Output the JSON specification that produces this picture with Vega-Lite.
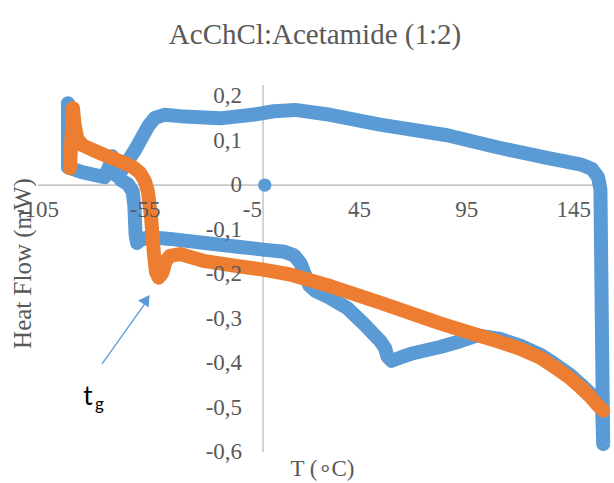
{
  "$schema": "https://vega.github.io/schema/vega-lite/v6.json",
  "width": 568,
  "height": 367,
  "autosize": {"type": "none"},
  "padding": {"left": 38, "top": 85, "right": 8, "bottom": 31},
  "background": "white",
  "config": {"view": {"stroke": null}},
  "title": {"text": "AcChCl:Acetamide (1:2)", "font": "Liberation Serif", "fontSize": 29, "fontWeight": "normal", "color": "#595959", "offset": 34, "anchor": "middle", "dx": -7},
  "datasets": {
    "axes": [
      {"x": -105, "x2": 160, "y": 0, "y2": 0},
      {"x": 0, "x2": 0, "y": -0.6, "y2": 0.225}
    ],
    "blue": [
      {"i": 1, "x": -91.0, "y": 0.184},
      {"i": 2, "x": -91.0, "y": 0.040},
      {"i": 3, "x": -84.5, "y": 0.029},
      {"i": 4, "x": -74.0, "y": 0.018},
      {"i": 5, "x": -71.5, "y": 0.045},
      {"i": 6, "x": -70.5, "y": 0.065},
      {"i": 7, "x": -69.3, "y": 0.045},
      {"i": 8, "x": -68.6, "y": 0.022},
      {"i": 9, "x": -65.8, "y": 0.034},
      {"i": 10, "x": -59.7, "y": 0.079},
      {"i": 11, "x": -53.5, "y": 0.133},
      {"i": 12, "x": -50.5, "y": 0.151},
      {"i": 13, "x": -46.0, "y": 0.158},
      {"i": 14, "x": -38.7, "y": 0.155},
      {"i": 15, "x": -20.1, "y": 0.150},
      {"i": 16, "x": -5, "y": 0.158},
      {"i": 17, "x": 5, "y": 0.166},
      {"i": 18, "x": 15, "y": 0.169},
      {"i": 19, "x": 31.3, "y": 0.158},
      {"i": 20, "x": 54.6, "y": 0.136},
      {"i": 21, "x": 85.9, "y": 0.112},
      {"i": 22, "x": 109.2, "y": 0.085},
      {"i": 23, "x": 132.5, "y": 0.061},
      {"i": 24, "x": 148.5, "y": 0.046},
      {"i": 25, "x": 153.5, "y": 0.036},
      {"i": 26, "x": 156.3, "y": 0.018},
      {"i": 27, "x": 157.4, "y": -0.010},
      {"i": 28, "x": 157.7, "y": -0.146},
      {"i": 29, "x": 158.2, "y": -0.371},
      {"i": 30, "x": 158.7, "y": -0.582},
      {"i": 31, "x": 158.2, "y": -0.502},
      {"i": 32, "x": 156.0, "y": -0.487},
      {"i": 33, "x": 152.6, "y": -0.468},
      {"i": 34, "x": 148.0, "y": -0.447},
      {"i": 35, "x": 143.3, "y": -0.427},
      {"i": 36, "x": 136.0, "y": -0.402},
      {"i": 37, "x": 129.3, "y": -0.381},
      {"i": 38, "x": 120.0, "y": -0.361},
      {"i": 39, "x": 110.6, "y": -0.346},
      {"i": 40, "x": 100.0, "y": -0.338},
      {"i": 41, "x": 92.0, "y": -0.351},
      {"i": 42, "x": 82.6, "y": -0.364},
      {"i": 43, "x": 70.0, "y": -0.378},
      {"i": 44, "x": 63.9, "y": -0.388},
      {"i": 45, "x": 60.0, "y": -0.395},
      {"i": 46, "x": 58.0, "y": -0.385},
      {"i": 47, "x": 56.9, "y": -0.366},
      {"i": 48, "x": 54.6, "y": -0.350},
      {"i": 49, "x": 47.0, "y": -0.312},
      {"i": 50, "x": 39.2, "y": -0.276},
      {"i": 51, "x": 31.3, "y": -0.254},
      {"i": 52, "x": 24.5, "y": -0.238},
      {"i": 53, "x": 21.5, "y": -0.225},
      {"i": 54, "x": 19.6, "y": -0.202},
      {"i": 55, "x": 17.5, "y": -0.176},
      {"i": 56, "x": 14.5, "y": -0.158},
      {"i": 57, "x": 10.0, "y": -0.150},
      {"i": 58, "x": 0, "y": -0.145},
      {"i": 59, "x": -10.7, "y": -0.139},
      {"i": 60, "x": -27.1, "y": -0.130},
      {"i": 61, "x": -43.4, "y": -0.121},
      {"i": 62, "x": -52.7, "y": -0.117},
      {"i": 63, "x": -56.8, "y": -0.122},
      {"i": 64, "x": -58.8, "y": -0.130},
      {"i": 65, "x": -59.5, "y": -0.110},
      {"i": 66, "x": -60.0, "y": -0.050},
      {"i": 67, "x": -60.8, "y": -0.015},
      {"i": 68, "x": -63.0, "y": 0.002},
      {"i": 69, "x": -66.5, "y": 0.012}
    ],
    "dot": [{"x": 0.8, "y": 0}],
    "orange": [
      {"i": 1, "x": -90.1, "y": 0.038},
      {"i": 2, "x": -89.1, "y": 0.135},
      {"i": 3, "x": -88.7, "y": 0.173},
      {"i": 4, "x": -87.9, "y": 0.135},
      {"i": 5, "x": -86.6, "y": 0.103},
      {"i": 6, "x": -84.0, "y": 0.089},
      {"i": 7, "x": -79.0, "y": 0.078},
      {"i": 8, "x": -73.7, "y": 0.067},
      {"i": 9, "x": -65.8, "y": 0.052},
      {"i": 10, "x": -60.5, "y": 0.040},
      {"i": 11, "x": -57.5, "y": 0.028},
      {"i": 12, "x": -55.2, "y": 0.010},
      {"i": 13, "x": -53.7, "y": -0.015},
      {"i": 14, "x": -52.2, "y": -0.075},
      {"i": 15, "x": -51.0, "y": -0.150},
      {"i": 16, "x": -50.0, "y": -0.195},
      {"i": 17, "x": -48.7, "y": -0.208},
      {"i": 18, "x": -47.0, "y": -0.198},
      {"i": 19, "x": -45.5, "y": -0.172},
      {"i": 20, "x": -43.5, "y": -0.159},
      {"i": 21, "x": -38.7, "y": -0.155},
      {"i": 22, "x": -27.1, "y": -0.171},
      {"i": 23, "x": -10.7, "y": -0.183},
      {"i": 24, "x": 0, "y": -0.190},
      {"i": 25, "x": 12.6, "y": -0.201},
      {"i": 26, "x": 31.3, "y": -0.227},
      {"i": 27, "x": 54.6, "y": -0.264},
      {"i": 28, "x": 82.6, "y": -0.311},
      {"i": 29, "x": 100.0, "y": -0.337},
      {"i": 30, "x": 110.6, "y": -0.353},
      {"i": 31, "x": 120.0, "y": -0.368},
      {"i": 32, "x": 129.3, "y": -0.388},
      {"i": 33, "x": 136.0, "y": -0.409},
      {"i": 34, "x": 143.3, "y": -0.434},
      {"i": 35, "x": 148.0, "y": -0.454},
      {"i": 36, "x": 152.6, "y": -0.475},
      {"i": 37, "x": 156.0, "y": -0.494},
      {"i": 38, "x": 158.7, "y": -0.507}
    ],
    "xticks": [
      {"x": -105, "y": 0, "label": "-105"},
      {"x": -55, "y": 0, "label": "-55"},
      {"x": -5, "y": 0, "label": "-5"},
      {"x": 45, "y": 0, "label": "45"},
      {"x": 95, "y": 0, "label": "95"},
      {"x": 145, "y": 0, "label": "145"}
    ],
    "yticks": [
      {"x": 0, "y": 0.2, "label": "0,2"},
      {"x": 0, "y": 0.1, "label": "0,1"},
      {"x": 0, "y": 0, "label": "0"},
      {"x": 0, "y": -0.1, "label": "-0,1"},
      {"x": 0, "y": -0.2, "label": "-0,2"},
      {"x": 0, "y": -0.3, "label": "-0,3"},
      {"x": 0, "y": -0.4, "label": "-0,4"},
      {"x": 0, "y": -0.5, "label": "-0,5"},
      {"x": 0, "y": -0.6, "label": "-0,6"}
    ],
    "arrow": [{"x": -75.1, "y": -0.402, "x2": -54.2, "y2": -0.26}],
    "arrowhead": [{"x": -54.4, "y": -0.257}],
    "t": [{"x": -81.7, "y": -0.494, "label": "t"}],
    "g": [{"x": -76.3, "y": -0.506, "label": "g"}]
  },
  "encoding": {
    "x": {"field": "x", "type": "quantitative", "scale": {"domain": [-105, 160], "nice": false, "zero": false},
      "axis": {"title": "T (∘C)", "domain": false, "ticks": false, "labels": false, "grid": false, "titleFont": "Liberation Serif", "titleFontSize": 23, "titleFontWeight": "normal", "titleColor": "#595959", "titlePadding": 5}},
    "y": {"field": "y", "type": "quantitative", "scale": {"domain": [-0.6, 0.225], "nice": false, "zero": false},
      "axis": {"title": "Heat Flow (mW)", "domain": false, "ticks": false, "labels": false, "grid": false, "titleFont": "Liberation Serif", "titleFontSize": 25, "titleFontWeight": "normal", "titleColor": "#595959", "titleX": -8, "titleY": 178, "titleAngle": 270, "titleBaseline": "alphabetic", "titleAlign": "center"}}
  },
  "layer": [
    {"data": {"name": "axes"}, "mark": {"type": "rule", "color": "#C8C8C8", "strokeWidth": 1.6},
      "encoding": {"x2": {"field": "x2"}, "y2": {"field": "y2"}}},
    {"data": {"name": "blue"}, "mark": {"type": "line", "color": "#5B9BD5", "strokeWidth": 14, "strokeCap": "round", "strokeJoin": "round"},
      "encoding": {"order": {"field": "i", "type": "quantitative"}}},
    {"data": {"name": "dot"}, "mark": {"type": "point", "filled": true, "color": "#5B9BD5", "size": 180, "opacity": 1}, "encoding": {}},
    {"data": {"name": "orange"}, "mark": {"type": "line", "color": "#ED7D31", "strokeWidth": 14, "strokeCap": "round", "strokeJoin": "round"},
      "encoding": {"order": {"field": "i", "type": "quantitative"}}},
    {"data": {"name": "xticks"}, "mark": {"type": "text", "font": "Liberation Serif", "fontSize": 23, "color": "#595959", "align": "center", "baseline": "middle", "dy": 25},
      "encoding": {"text": {"field": "label"}}},
    {"data": {"name": "yticks"}, "mark": {"type": "text", "font": "Liberation Serif", "fontSize": 23, "color": "#595959", "align": "right", "baseline": "middle", "dx": -21},
      "encoding": {"text": {"field": "label"}}},
    {"data": {"name": "arrow"}, "mark": {"type": "rule", "color": "#5B9BD5", "strokeWidth": 1.3},
      "encoding": {"x2": {"field": "x2"}, "y2": {"field": "y2"}}},
    {"data": {"name": "arrowhead"}, "mark": {"type": "point", "shape": "triangle-up", "filled": true, "color": "#5B9BD5", "size": 160, "angle": 34, "opacity": 1}, "encoding": {}},
    {"data": {"name": "t"}, "mark": {"type": "text", "font": "Lato", "fontSize": 26, "color": "#000000", "align": "center", "baseline": "alphabetic"},
      "encoding": {"text": {"field": "label"}}},
    {"data": {"name": "g"}, "mark": {"type": "text", "font": "Lato", "fontSize": 17, "color": "#000000", "align": "center", "baseline": "alphabetic"},
      "encoding": {"text": {"field": "label"}}}
  ]
}
